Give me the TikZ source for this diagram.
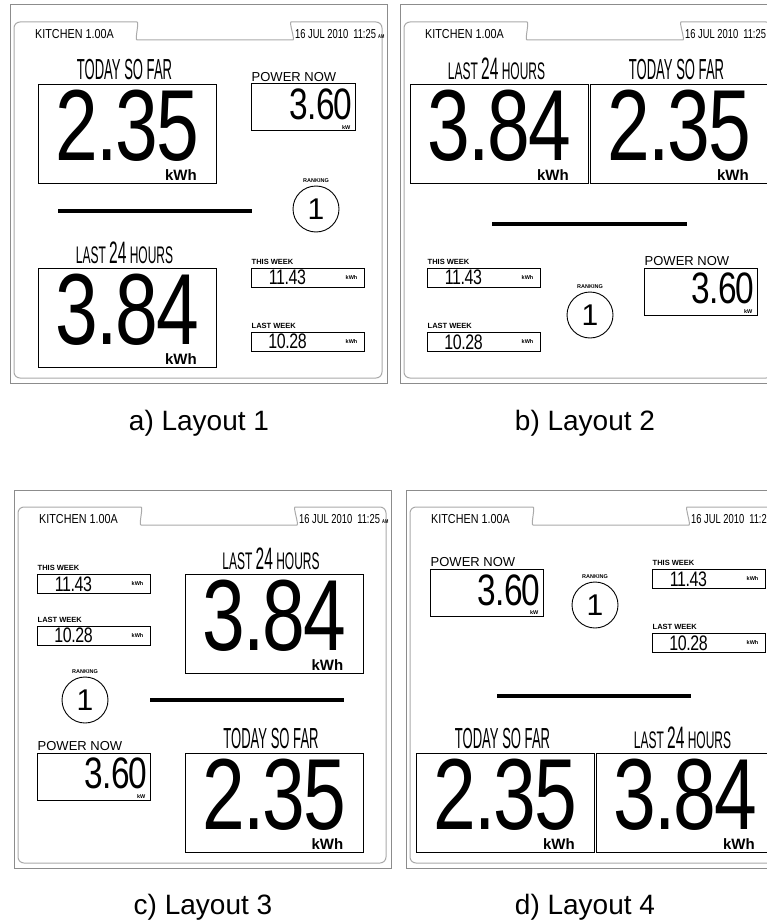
\documentclass[tikz,border=0pt]{standalone}
\usepackage{fontspec}
\setmainfont{Liberation Sans}
\newfontfamily\numfont[FakeStretch=0.76, LetterSpace=-2]{Liberation Sans}
\newfontfamily\headfont[FakeStretch=0.45]{Liberation Sans}
\newfontfamily\hourfont[FakeStretch=0.5]{Liberation Sans}
\newfontfamily\tabfont[FakeStretch=0.72]{Liberation Sans}
\newfontfamily\roomfont[FakeStretch=0.83]{Liberation Sans}
\usetikzlibrary{calc}
\definecolor{frameouter}{RGB}{140,140,140}
\definecolor{frameinner}{RGB}{170,170,170}

% one display: name, x, y of the outer top-left corner
\newcommand{\panelframe}[3]{%
  \draw[frameout] (#2,#3) rectangle ++(377,378);
  \draw[framein] (#2+4,#3+373) -- (#2+4,#3+17) -- (#2+121,#3+17)
      to[out=0,in=180] (#2+133,#3+35) -- (#2+277,#3+35)
      to[out=0,in=180] (#2+287,#3+17) -- (#2+372,#3+17) -- (#2+372,#3+373) -- cycle;
  \node[tabtxt, font=\roomfont\fontsize{13}{13}\selectfont, anchor=west] (#1-room)
      at (#2+25,#3+29) {KITCHEN 1.00A};
  \node[tabtxt, anchor=west] (#1-clock) at (#2+285,#3+29)
      {16 JUL 2010\hspace{5pt}11:25\,{\bfseries\fontsize{5.5}{5.5}\selectfont AM}};
}
% big kWh meter: name, x, y, title, value
\newcommand{\bigmeter}[5]{%
  \node[bigbox] (#1) at (#2,#3) {};
  \node[bignum] (#1-val) at ([yshift=8pt]#1.center) {#5};
  \node[bigunit, anchor=south east] (#1-unit) at ([xshift=-20pt,yshift=3pt]#1.south east) {kWh};
  \node[headlbl, anchor=south] (#1-lbl) at ([xshift=-3pt,yshift=4pt]#1.north) {#4};
}
% power now meter: name, x, y, width
\newcommand{\powermeter}[4]{%
  \node[pwrbox, minimum width=#4] (#1) at (#2,#3) {};
  \node[midnum, anchor=east] (#1-val) at ([xshift=-3pt,yshift=3pt]#1.east) {3.60};
  \node[tinyunit, anchor=south east] (#1-unit) at ([xshift=-5pt,yshift=2pt]#1.south east) {kW};
  \node[boxlbl, anchor=south west] (#1-lbl) at ([xshift=1pt,yshift=2pt]#1.north west) {POWER NOW};
}
% week meter: name, x, y, title, value
\newcommand{\weekmeter}[5]{%
  \node[weekbox] (#1) at (#2,#3) {};
  \node[smallnum] (#1-val) at ([xshift=-20pt]#1.center) {#5};
  \node[tinyunit] (#1-unit) at ([xshift=-13pt]#1.east) {kWh};
  \node[weeklbl, anchor=south west] (#1-lbl) at ([xshift=1pt,yshift=3pt]#1.north west) {#4};
}
% ranking badge: name, x, y
\newcommand{\ranking}[3]{%
  \node[rankring] (#1) at (#2,#3) {1};
  \node[weeklbl, font=\bfseries\fontsize{5.5}{5.5}\selectfont, anchor=south] (#1-lbl)
      at ([yshift=3pt]#1.north) {RANKING};
}
\newcommand{\hours}{LAST {\fontsize{31}{31}\selectfont 24} HOURS}
\newcommand{\sofar}{{\headfont\fontsize{29}{29}\selectfont TODAY SO FAR}}

\begin{document}
\begin{tikzpicture}[x=1pt, y=-1pt,
    frameout/.style={draw=frameouter, line width=1pt},
    framein/.style={draw=frameinner, line width=1pt, rounded corners=6pt},
    bigbox/.style={draw, line width=1pt, minimum width=178pt, minimum height=99pt, inner sep=0pt},
    pwrbox/.style={draw, line width=1pt, minimum height=47pt, inner sep=0pt},
    weekbox/.style={draw, line width=1pt, minimum width=113pt, minimum height=19pt, inner sep=0pt},
    rankring/.style={circle, draw, line width=0.9pt, minimum size=46pt, inner sep=0pt,
        font=\fontsize{30}{30}\selectfont},
    bignum/.style={inner sep=0pt, font=\numfont\fontsize{101}{101}\selectfont},
    midnum/.style={inner sep=0pt, font=\numfont\fontsize{44}{44}\selectfont},
    smallnum/.style={inner sep=0pt, font=\numfont\fontsize{21}{21}\selectfont},
    bigunit/.style={inner sep=0pt, font=\bfseries\fontsize{15}{15}\selectfont},
    tinyunit/.style={inner sep=0pt, font=\bfseries\fontsize{5.5}{5.5}\selectfont},
    headlbl/.style={inner sep=0pt, font=\hourfont\fontsize{24}{24}\selectfont},
    boxlbl/.style={inner sep=0pt, font=\fontsize{13}{13}\selectfont},
    weeklbl/.style={inner sep=0pt, font=\bfseries\fontsize{7.5}{7.5}\selectfont},
    tabtxt/.style={inner sep=0pt, font=\tabfont\fontsize{13}{13}\selectfont},
    divider/.style={line width=4pt},
    caption/.style={inner sep=0pt, anchor=base, font=\fontsize{28}{28}\selectfont}]
    \useasboundingbox (0,0) rectangle (767,923);
    \fill[white] (0,0) rectangle (767,923);
    \clip (0,0) rectangle (767,923);

    % a) Layout 1
    \panelframe{a}{10}{5}
    \bigmeter{a-today}{127.5}{134}{\sofar}{2.35}
    \bigmeter{a-last}{127.5}{318}{\hours}{3.84}
    \powermeter{a-power}{303}{107.5}{104pt}
    \ranking{a-rank}{316}{209}
    \draw[divider] (58,211) -- (252,211);
    \weekmeter{a-this}{307.5}{277.5}{THIS WEEK}{11.43}
    \weekmeter{a-lastw}{307.5}{341.5}{LAST WEEK}{10.28}

    % b) Layout 2
    \panelframe{b}{400}{5}
    \bigmeter{b-last}{499.5}{134}{\hours}{3.84}
    \bigmeter{b-today}{679.5}{134}{\sofar}{2.35}
    \draw[divider] (492,224) -- (687,224);
    \weekmeter{b-this}{483.5}{277.5}{THIS WEEK}{11.43}
    \weekmeter{b-lastw}{483.5}{342}{LAST WEEK}{10.28}
    \ranking{b-rank}{590}{315}
    \powermeter{b-power}{700.5}{291.5}{113pt}

    % c) Layout 3
    \panelframe{c}{14}{490}
    \weekmeter{c-this}{93.5}{584}{THIS WEEK}{11.43}
    \weekmeter{c-lastw}{93.5}{635.5}{LAST WEEK}{10.28}
    \bigmeter{c-last}{274}{624}{\hours}{3.84}
    \ranking{c-rank}{85}{700}
    \draw[divider] (150,700) -- (344,700);
    \powermeter{c-power}{93.5}{776.5}{113pt}
    \bigmeter{c-today}{274}{803}{\sofar}{2.35}

    % d) Layout 4
    \panelframe{d}{406}{490}
    \powermeter{d-power}{486.5}{593}{113pt}
    \ranking{d-rank}{595}{605}
    \weekmeter{d-this}{708.5}{579}{THIS WEEK}{11.43}
    \weekmeter{d-lastw}{708.5}{643}{LAST WEEK}{10.28}
    \draw[divider] (497,696) -- (691,696);
    \bigmeter{d-today}{505.5}{803}{\sofar}{2.35}
    \bigmeter{d-last}{685.5}{803}{\hours}{3.84}

    \node[caption] (cap-a) at (199,430) {a) Layout 1};
    \node[caption] (cap-b) at (585,430) {b) Layout 2};
    \node[caption] (cap-c) at (203,914) {c) Layout 3};
    \node[caption] (cap-d) at (585,914) {d) Layout 4};
\end{tikzpicture}
\end{document}
